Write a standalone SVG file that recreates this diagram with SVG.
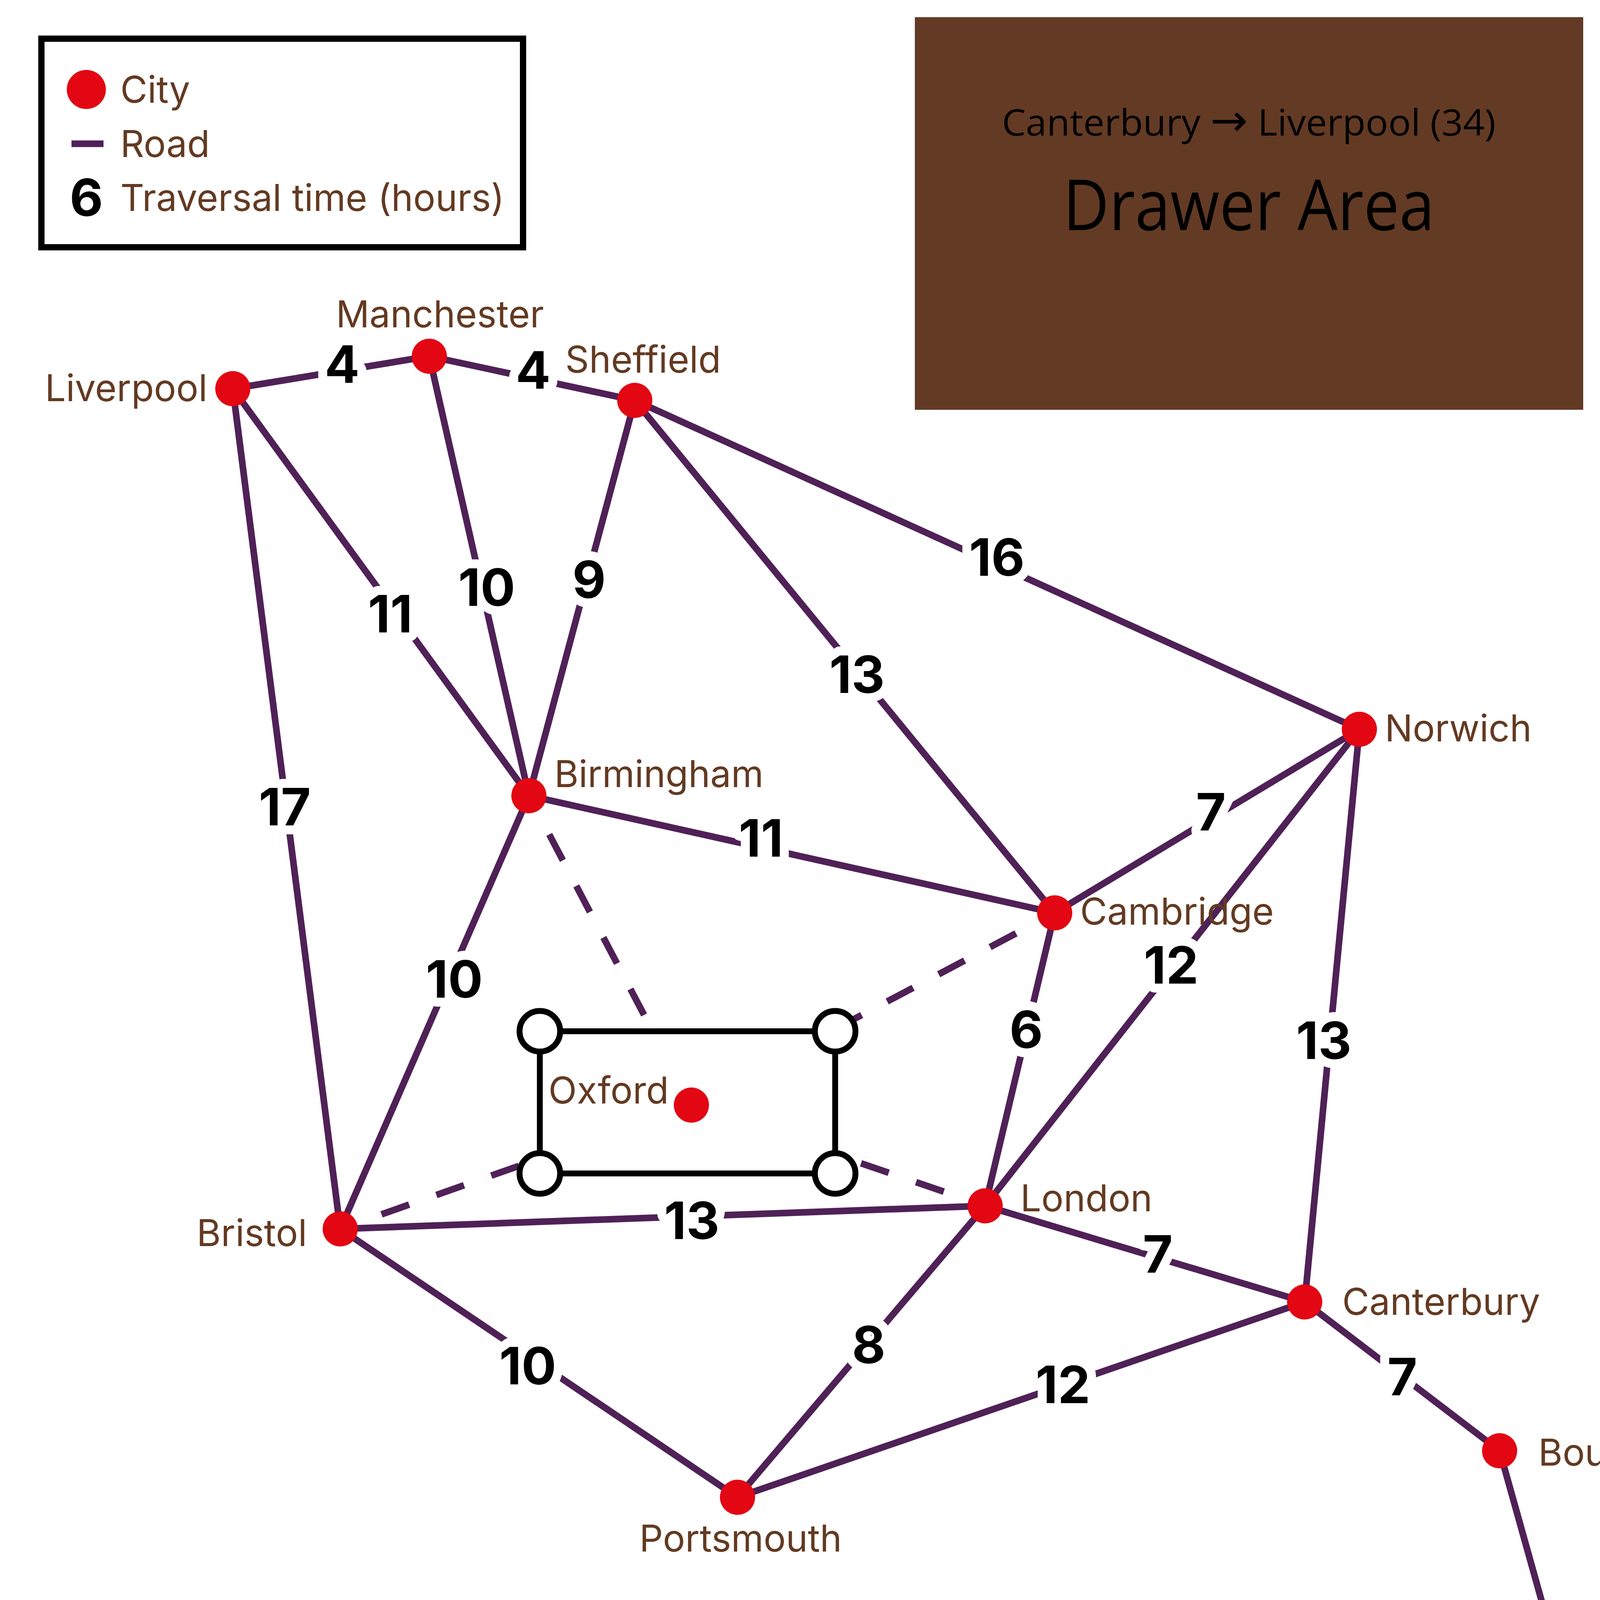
<svg xmlns="http://www.w3.org/2000/svg" width="4097" height="4097" viewBox="0 0 4097 4097">
<style>
.road{stroke:#4f2157;stroke-width:17;fill:none}
.dash{stroke-dasharray:75 74;stroke-dashoffset:37}
.city{fill:#e30613}
.lbl{font-family:Inter,"Noto Sans",sans-serif;font-size:95px;fill:#633a22}
.num{font-family:Inter,"Noto Sans",sans-serif;font-weight:700;font-size:132px;fill:#000;text-anchor:middle;paint-order:stroke;stroke:#fff;stroke-width:46;stroke-linejoin:round}
.corner{fill:#fff;stroke:#000;stroke-width:15}
.drawer{font-family:"Open Sans","Noto Sans",sans-serif;fill:#000;text-anchor:middle}
</style>
<rect width="4097" height="4097" fill="#fff"/>
<g id="legend">
<rect x="106" y="99" width="1233" height="534" fill="#fff" stroke="#000" stroke-width="16"/>
<circle cx="221" cy="229" r="50" class="city"/>
<text x="308" y="263" class="lbl">City</text>
<line x1="183" y1="368" x2="265" y2="368" class="road"/>
<text x="308" y="402" class="lbl">Road</text>
<text x="221" y="553" class="num" style="stroke:none">6</text>
<text x="308" y="540" class="lbl">Traversal time (hours)</text>
</g>
<g id="drawer-area">
<rect x="2342" y="44" width="1711" height="1005" fill="#633a24"/>
<text x="3197" y="347" class="drawer" font-size="94" textLength="1264" lengthAdjust="spacingAndGlyphs">Canterbury <tspan font-family="DejaVu Sans" font-size="112">→</tspan> Liverpool (34)</text>
<text x="3197" y="589" class="drawer" font-size="179" textLength="951" lengthAdjust="spacingAndGlyphs">Drawer Area</text>
</g>
<g id="connectors">
<line class="road" x1="596" y1="995" x2="1099" y2="912"/>
<line class="road" x1="1099" y1="912" x2="1625" y2="1025"/>
<line class="road" x1="596" y1="995" x2="1354" y2="2037"/>
<line class="road" x1="1099" y1="912" x2="1354" y2="2037"/>
<line class="road" x1="1625" y1="1025" x2="1354" y2="2037"/>
<line class="road" x1="1625" y1="1025" x2="2700" y2="2337"/>
<line class="road" x1="1625" y1="1025" x2="3480" y2="1867"/>
<line class="road" x1="596" y1="995" x2="871" y2="3146"/>
<line class="road" x1="1354" y1="2037" x2="2700" y2="2337"/>
<line class="road" x1="1354" y1="2037" x2="871" y2="3146"/>
<line class="road" x1="2700" y1="2337" x2="3480" y2="1867"/>
<line class="road" x1="3480" y1="1867" x2="2522" y2="3087"/>
<line class="road" x1="2700" y1="2337" x2="2522" y2="3087"/>
<line class="road" x1="3480" y1="1867" x2="3340" y2="3333"/>
<line class="road" x1="871" y1="3146" x2="2522" y2="3087"/>
<line class="road" x1="2522" y1="3087" x2="3340" y2="3333"/>
<line class="road" x1="871" y1="3146" x2="1888" y2="3833"/>
<line class="road" x1="2522" y1="3087" x2="1888" y2="3833"/>
<line class="road" x1="1888" y1="3833" x2="3340" y2="3333"/>
<line class="road" x1="3340" y1="3333" x2="3839" y2="3714"/>
<line class="road" x1="3839" y1="3714" x2="3975" y2="4200"/>
<line class="road dash" x1="1354" y1="2037" x2="1770" y2="2829"/>
<line class="road dash" x1="2700" y1="2337" x2="1770" y2="2829"/>
<line class="road dash" x1="871" y1="3146" x2="1770" y2="2829"/>
<line class="road dash" x1="2522" y1="3087" x2="1770" y2="2829"/>
</g>
<g id="oxford-box">
<rect x="1382" y="2640" width="756" height="364" fill="#fff" stroke="#000" stroke-width="15"/>
<circle class="corner" cx="1382" cy="2640" r="52"/>
<circle class="corner" cx="2138" cy="2640" r="52"/>
<circle class="corner" cx="1382" cy="3004" r="52"/>
<circle class="corner" cx="2138" cy="3004" r="52"/>
</g>
<g id="node-liverpool"><circle class="city" cx="596" cy="995" r="45"/><text class="lbl" x="531" y="1027" text-anchor="end">Liverpool</text></g>
<g id="node-manchester"><circle class="city" cx="1099" cy="912" r="45"/><text class="lbl" x="860" y="838">Manchester</text></g>
<g id="node-sheffield"><circle class="city" cx="1625" cy="1025" r="45"/><text class="lbl" x="1447" y="954">Sheffield</text></g>
<g id="node-birmingham"><circle class="city" cx="1354" cy="2037" r="45"/><text class="lbl" x="1419" y="2015">Birmingham</text></g>
<g id="node-norwich"><circle class="city" cx="3480" cy="1867" r="45"/><text class="lbl" x="3545" y="1898">Norwich</text></g>
<g id="node-cambridge"><circle class="city" cx="2700" cy="2337" r="45"/><text class="lbl" x="2765" y="2367">Cambridge</text></g>
<g id="node-oxford"><circle class="city" cx="1770" cy="2829" r="45"/><text class="lbl" x="1404" y="2825">Oxford</text></g>
<g id="node-london"><circle class="city" cx="2522" cy="3087" r="45"/><text class="lbl" x="2612" y="3101">London</text></g>
<g id="node-bristol"><circle class="city" cx="871" cy="3146" r="45"/><text class="lbl" x="786" y="3190" text-anchor="end">Bristol</text></g>
<g id="node-canterbury"><circle class="city" cx="3340" cy="3333" r="45"/><text class="lbl" x="3436" y="3366">Canterbury</text></g>
<g id="node-portsmouth"><circle class="city" cx="1888" cy="3833" r="45"/><text class="lbl" x="1896" y="3972" text-anchor="middle">Portsmouth</text></g>
<g id="node-bou"><circle class="city" cx="3839" cy="3714" r="45"/><text class="lbl" x="3938" y="3752">Bou</text></g>
<g id="edge-labels">
<rect x="2600" y="2600" width="54" height="70" fill="#fff"/>
<rect x="1481" y="1448" width="54" height="70" fill="#fff"/>
<text class="num" x="876" y="980">4</text>
<text class="num" x="1365" y="995">4</text>
<text class="num" x="999" y="1619">11</text>
<text class="num" x="1246" y="1551">10</text>
<text class="num" x="1508" y="1531">9</text>
<text class="num" x="2194" y="1774">13</text>
<text class="num" x="2552" y="1474">16</text>
<text class="num" x="729" y="2113">17</text>
<text class="num" x="1948" y="2193">11</text>
<text class="num" x="1163" y="2554">10</text>
<text class="num" x="3100" y="2126">7</text>
<text class="num" x="2998" y="2518">12</text>
<text class="num" x="2627" y="2683">6</text>
<text class="num" x="3389" y="2711">13</text>
<text class="num" x="1771" y="3172">13</text>
<text class="num" x="2964" y="3258">7</text>
<text class="num" x="1351" y="3544">10</text>
<text class="num" x="2224" y="3490">8</text>
<text class="num" x="2721" y="3592">12</text>
<text class="num" x="3590" y="3572">7</text>
</g>
</svg>
